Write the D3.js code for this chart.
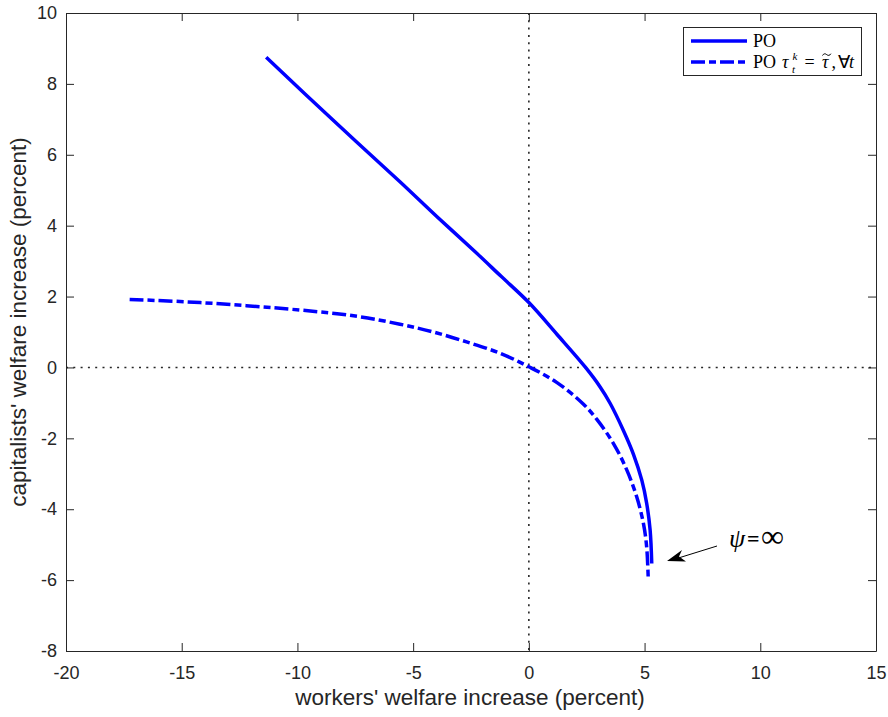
<!DOCTYPE html>
<html>
<head>
<meta charset="utf-8">
<title>PO frontier</title>
<script src="https://cdn.jsdelivr.net/npm/d3@7"></script>
<style>
  body { margin: 0; background: #fff; }
  svg { display: block; }
  .axis path, .axis line { stroke: #262626; stroke-width: 1; }
  .axis text { font-family: 'Liberation Sans', Arial, sans-serif; font-size: 18px; fill: #262626; }
  text.label { font-family: 'Liberation Sans', Arial, sans-serif; font-size: 22.5px; fill: #262626; }
  .legend text, .note text { font-family: 'Liberation Serif', 'Times New Roman', serif; fill: #000; }
  .zero { stroke: #262626; stroke-width: 1.6; stroke-dasharray: 2 5.3; }
  .po { fill: none; stroke: #0000ff; stroke-width: 3.5; }
</style>
</head>
<body>
<svg width="888" height="717"></svg>
<script>
// data: workers' vs capitalists' welfare change (%)
const poX  = [-11.35, -8.5, -5.57, -3.98, -2.25, -1.2, 0, 1.22, 2.45, 3.08, 3.51, 4.08, 4.52, 4.88, 5.09, 5.24, 5.31];
const poY  = [8.75, 7.0, 5.24, 4.26, 3.22, 2.57, 1.83, 0.93, 0, -0.55, -1.01, -1.77, -2.45, -3.18, -3.83, -4.59, -5.53];
const tauX = [-17.25, -14.2, -9.9, -7.5, -5.57, -4.13, -2.69, -1.24, 0, 1.2, 2.35, 2.93, 3.65, 4.23, 4.66, 4.95, 5.09, 5.16];
const tauY = [1.92, 1.83, 1.62, 1.45, 1.22, 1.0, 0.72, 0.4, 0.02, -0.42, -1.03, -1.46, -2.14, -2.89, -3.65, -4.40, -5.06, -6.0];
const xTicks = [-20, -15, -10, -5, 0, 5, 10, 15];
const yTicks = [-8, -6, -4, -2, 0, 2, 4, 6, 8, 10];

const svg = d3.select('svg');
const pLeft = 66, pRight = 876, pTop = 13, pBottom = 651;

const x = d3.scaleLinear().domain([-20, 15]).range([pLeft, pRight]);
const y = d3.scaleLinear().domain([-8, 10]).range([pBottom, pTop]);

// zero reference lines
svg.append('line').attr('class', 'zero')
  .attr('x1', x(0)).attr('x2', x(0)).attr('y1', pTop).attr('y2', pBottom);
svg.append('line').attr('class', 'zero')
  .attr('x1', pLeft).attr('x2', pRight).attr('y1', y(0)).attr('y2', y(0));

const line = d3.line().x(d => x(d[0])).y(d => y(d[1])).curve(d3.curveCatmullRom.alpha(0.5));

svg.append('path').attr('class', 'po')
  .attr('d', line(d3.zip(poX, poY)));
svg.append('path').attr('class', 'po')
  .attr('stroke-dasharray', '14 4 7 4')
  .attr('d', line(d3.zip(tauX, tauY)));

// axes (ticks inward, box on all sides)
svg.append('g').attr('class', 'axis')
  .attr('transform', `translate(0,${pBottom})`)
  .call(d3.axisBottom(x).tickValues(xTicks).tickSizeInner(-8).tickSizeOuter(0).tickPadding(15).tickFormat(d3.format('d')));
svg.append('g').attr('class', 'axis')
  .attr('transform', `translate(${pLeft},0)`)
  .call(d3.axisLeft(y).tickValues(yTicks).tickSizeInner(-8).tickSizeOuter(0).tickPadding(9).tickFormat(d3.format('d')));
svg.append('g').attr('class', 'axis')
  .attr('transform', `translate(0,${pTop})`)
  .call(d3.axisTop(x).tickValues(xTicks).tickSizeInner(-8).tickSizeOuter(0).tickFormat(''));
svg.append('g').attr('class', 'axis')
  .attr('transform', `translate(${pRight},0)`)
  .call(d3.axisRight(y).tickValues(yTicks).tickSizeInner(-8).tickSizeOuter(0).tickFormat(''));

// the minus sign in MATLAB tick labels is a plain hyphen
svg.selectAll('.axis text').text(function () { return this.textContent.replace('\u2212', '-'); });

// axis labels
svg.append('text').attr('class', 'label')
  .attr('x', 470).attr('y', 705).attr('text-anchor', 'middle')
  .text("workers' welfare increase (percent)");
svg.append('text').attr('class', 'label')
  .attr('transform', 'translate(26,322) rotate(-90)').attr('text-anchor', 'middle')
  .text("capitalists' welfare increase (percent)");

// legend
const lg = svg.append('g').attr('class', 'legend');
lg.append('rect').attr('x', 683.5).attr('y', 27.5).attr('width', 178).attr('height', 48)
  .attr('fill', '#fff').attr('stroke', '#262626').attr('stroke-width', 1);
lg.append('line').attr('class', 'po').attr('x1', 691).attr('x2', 747).attr('y1', 41).attr('y2', 41);
lg.append('line').attr('class', 'po').attr('stroke-dasharray', '14 4 7 4')
  .attr('x1', 691).attr('x2', 747).attr('y1', 62).attr('y2', 62);
lg.append('text').attr('x', 753).attr('y', 46.5).attr('font-size', 18).text('PO');

// second entry: PO tau_t^k = tilde-tau, forall t
const b2 = 67.5;
const piece = (tx, dx, dy, size, italic) => lg.append('text')
  .attr('x', dx).attr('y', b2 + dy).attr('font-size', size)
  .attr('font-style', italic ? 'italic' : 'normal').text(tx);
piece('PO', 753, 0, 18, false);
piece('\u03c4', 782, 0, 18, true);
piece('k', 792.5, -8, 11, true);
piece('t', 792, 5, 11, true);
piece('=', 804.5, 0, 18, false);
piece('\u03c4', 822, 0, 18, true);
piece(',', 831.5, 0, 18, false);
piece('\u2200', 838, 0, 18, false);
piece('t', 849, 0, 18, true);
// tilde accent over the second tau
lg.append('path')
  .attr('d', `M822.5,${b2 - 12} c1.3,-2.2 2.8,-2 4.2,-0.9 s2.9,1.3 4.2,-0.9`)
  .attr('fill', 'none').attr('stroke', '#000').attr('stroke-width', 1);

// annotation arrow
const note = svg.append('g').attr('class', 'note');
note.append('line').attr('x1', 717).attr('y1', 546).attr('x2', 680).attr('y2', 557.5)
  .attr('stroke', '#000').attr('stroke-width', 1);
note.append('path')
  .attr('d', 'M667,561 L682,550 L679,556.5 L686,561.5 Z')
  .attr('fill', '#000');
note.append('text').attr('x', 729).attr('y', 547).attr('font-size', 26)
  .attr('font-style', 'italic').text('\u03c8');
note.append('text').attr('x', 747).attr('y', 546).attr('font-size', 22)
  .attr('font-family', "'Liberation Sans', Arial, sans-serif").attr('font-weight', 'bold').text('=');
note.append('text').attr('x', 761).attr('y', 547).attr('font-size', 32).text('\u221e');
</script>
</body>
</html>
